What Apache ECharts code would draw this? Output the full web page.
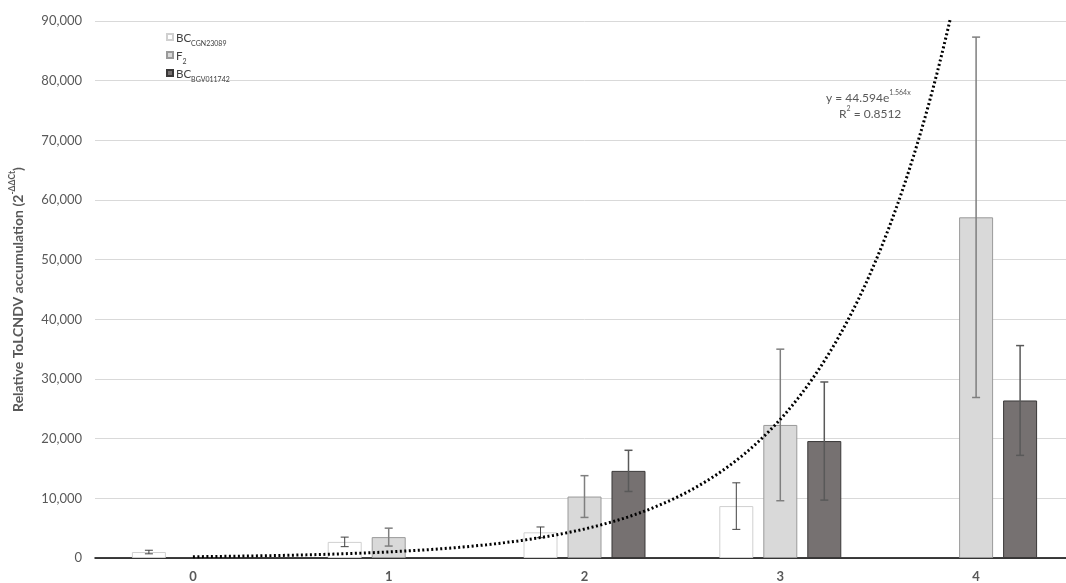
<!DOCTYPE html>
<html>
<head>
<meta charset="utf-8">
<script src="https://cdn.jsdelivr.net/npm/echarts@6/dist/echarts.min.js"></script>
<style>
html,body{margin:0;padding:0;background:#fff;overflow:hidden;width:1066px;height:583px;}
#chart{width:1074px;height:583px;}
</style>
</head>
<body>
<div id="chart"></div>
<script>
// ---- data ----
var categories = ['0', '1', '2', '3', '4'];
var yTicks = [0, 10000, 20000, 30000, 40000, 50000, 60000, 70000, 80000, 90000];
var bcCgn    = [1000, 2700, 4300, 8700, null];
var bcCgnErr = [300, 800, 900, 3900, null];
var f2       = [null, 3500, 10300, 22300, 57100];
var f2Err    = [null, 1500, 3500, 12700, 30200];
var bcBgv    = [null, null, 14600, 19600, 26400];
var bcBgvErr = [null, null, 3450, 9900, 9200];
// exponential trendline shown on the chart: y = A * e^(B * x), x = 1..5
var trendA = 44.594;
var trendB = 1.564;
var trendR2 = 0.8512;

// ---- chart ----
var chart = echarts.init(document.getElementById('chart'));
var FONT = 'Lato, "Open Sans", sans-serif';
var BAR_W = 34, BAR_STEP = 44;

function errData(vals, errs) {
  var out = [];
  for (var i = 0; i < vals.length; i++) {
    if (vals[i] != null && errs[i] != null) out.push([i, vals[i], errs[i]]);
  }
  return out;
}
function errSeries(vals, errs, offset, color, width) {
  return {
    type: 'custom',
    xAxisIndex: 0, yAxisIndex: 0,
    z: 5,
    silent: true,
    encode: { x: 0, y: 1 },
    data: errData(vals, errs),
    renderItem: function (params, api) {
      var i = api.value(0), v = api.value(1), e = api.value(2);
      var top = api.coord([i, v + e]);
      var bot = api.coord([i, Math.max(0, v - e)]);
      var x = top[0] + offset;
      var cap = 4;
      var st = { stroke: color, lineWidth: width };
      return {
        type: 'group',
        children: [
          { type: 'line', shape: { x1: x, y1: top[1], x2: x, y2: bot[1] }, style: st },
          { type: 'line', shape: { x1: x - cap, y1: top[1], x2: x + cap, y2: top[1] }, style: st },
          { type: 'line', shape: { x1: x - cap, y1: bot[1], x2: x + cap, y2: bot[1] }, style: st }
        ]
      };
    }
  };
}

var trend = [];
for (var k = 0; k <= 400; k++) {
  var xc = k * 0.01;
  trend.push([xc, trendA * Math.exp(trendB * (xc + 1))]);
}

var legendLabels = {
  'BC CGN23089': '{b|BC}{s|CGN23089}',
  'F2': '{b|F}{s|2}',
  'BC BGV011742': '{b|BC}{s|BGV011742}'
};

var option = {
  backgroundColor: '#ffffff',
  animation: false,
  textStyle: { fontFamily: FONT },
  grid: { left: 94, top: 21, right: 0, bottom: 24 },
  legend: {
    data: ['BC CGN23089', 'F2', 'BC BGV011742'],
    orient: 'vertical',
    left: 161, top: 27,
    icon: 'rect',
    itemWidth: 6, itemHeight: 6,
    itemGap: 3,
    formatter: function (n) { return legendLabels[n]; },
    textStyle: {
      padding: [0, 0, 0, -2],
      rich: {
        b: { fontSize: 11.5, color: '#404040', fontFamily: FONT, lineHeight: 14, verticalAlign: 'bottom' },
        s: { fontSize: 7, color: '#404040', fontFamily: FONT, lineHeight: 14, verticalAlign: 'bottom', padding: [0, 0, -3, 0] }
      }
    }
  },
  xAxis: [{
    type: 'category',
    data: categories,
    axisLine: { lineStyle: { color: '#000000', width: 1.5 } },
    axisTick: { show: false },
    axisLabel: { color: '#595959', fontWeight: 'bold', fontSize: 13, margin: 12, fontFamily: FONT },
    splitLine: { show: false }
  }, {
    type: 'value',
    min: -0.5, max: 4.5,
    show: false
  }],
  yAxis: {
    type: 'value',
    min: yTicks[0], max: yTicks[yTicks.length - 1], interval: yTicks[1] - yTicks[0],
    axisLine: { show: false },
    axisTick: { show: false },
    axisLabel: {
      color: '#595959', fontSize: 13, margin: 13, fontFamily: FONT,
      formatter: function (v) { return v.toLocaleString('en-US'); }
    },
    splitLine: { lineStyle: { color: '#d9d9d9', width: 1 } },
    name: '{a|Relative ToLCNDV accumulation (2}{sup|-ΔΔCt}{a|)}',
    nameLocation: 'middle',
    nameRotate: 90,
    nameGap: 70,
    nameTextStyle: {
      rich: {
        a: { fontSize: 14, fontWeight: 'bold', color: '#595959', fontFamily: FONT, lineHeight: 17, verticalAlign: 'bottom' },
        sup: { fontSize: 8.5, fontWeight: 'bold', color: '#595959', fontFamily: FONT, lineHeight: 17, verticalAlign: 'top' }
      }
    }
  },
  series: [
    {
      name: 'BC CGN23089', type: 'bar', data: bcCgn, barWidth: BAR_W, barGap: '29.4%',
      itemStyle: { color: '#ffffff', borderColor: '#d0d0d0', borderWidth: 1 }, z: 2
    },
    {
      name: 'F2', type: 'bar', data: f2, barWidth: BAR_W, barGap: '29.4%',
      itemStyle: { color: '#d9d9d9', borderColor: '#9a9a9a', borderWidth: 1 }, z: 2
    },
    {
      name: 'BC BGV011742', type: 'bar', data: bcBgv, barWidth: BAR_W, barGap: '29.4%',
      itemStyle: { color: '#767171', borderColor: '#3a3838', borderWidth: 1 }, z: 2
    },
    errSeries(bcCgn, bcCgnErr, -BAR_STEP, '#404040', 1),
    errSeries(f2, f2Err, 0, '#7f7f7f', 1.5),
    errSeries(bcBgv, bcBgvErr, BAR_STEP, '#595959', 1.5),
    {
      name: 'trend', type: 'line', xAxisIndex: 1, yAxisIndex: 0,
      data: trend, showSymbol: false, symbol: 'none', smooth: false, clip: true,
      lineStyle: { color: '#000000', width: 3, type: [2, 2.5] },
      z: 6, silent: true
    }
  ],
  graphic: [
    {
      type: 'text', left: 826, top: 89,
      style: {
        text: '{a|y = ' + trendA.toFixed(3) + 'e}{sup|' + trendB.toFixed(3) + 'x}',
        rich: {
          a: { fontSize: 12, fill: '#595959', fontFamily: FONT, lineHeight: 15, verticalAlign: 'bottom' },
          sup: { fontSize: 7, fill: '#595959', fontFamily: FONT, lineHeight: 15, verticalAlign: 'top' }
        }
      }
    },
    {
      type: 'text', left: 839, top: 105,
      style: {
        text: '{a|R}{sup|2}{a| = ' + trendR2.toFixed(4) + '}',
        rich: {
          a: { fontSize: 12, fill: '#595959', fontFamily: FONT, lineHeight: 15, verticalAlign: 'bottom' },
          sup: { fontSize: 7, fill: '#595959', fontFamily: FONT, lineHeight: 15, verticalAlign: 'top' }
        }
      }
    }
  ]
};
chart.setOption(option);
</script>
</body>
</html>
